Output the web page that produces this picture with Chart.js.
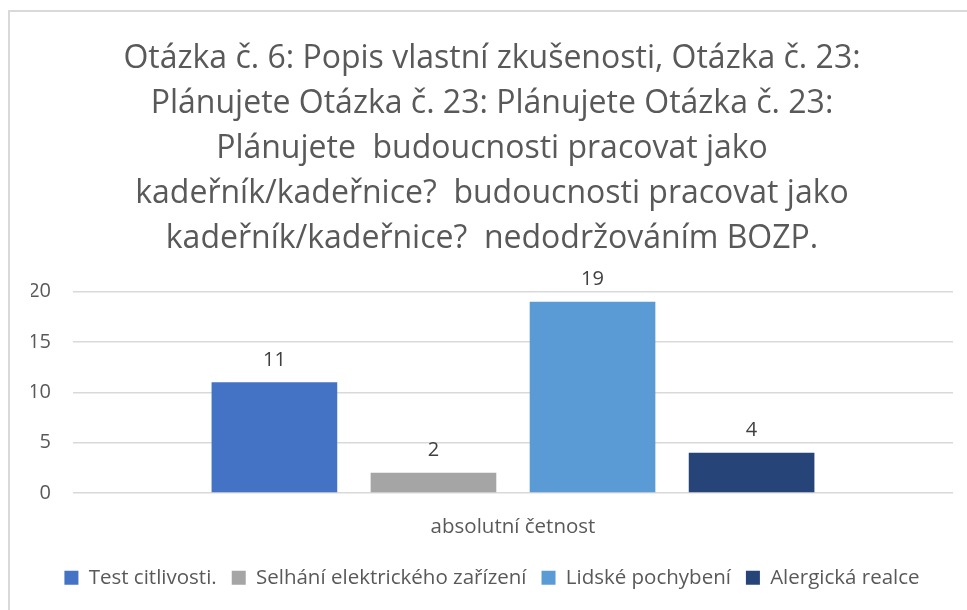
<!DOCTYPE html>
<html>
<head>
<meta charset="utf-8">
<script src="https://cdn.jsdelivr.net/npm/chart.js"></script>
<style>
  html, body { margin: 0; padding: 0; background: #fff; }
  #wrap { position: absolute; left: 0; top: 0; width: 967px; height: 610px; }
  #frame { position: absolute; left: 8px; top: 10px; width: 959px; height: 600px;
           border-left: 2px solid #d9d9d9; border-top: 2px solid #d9d9d9; box-sizing: border-box; }
</style>
</head>
<body>
<div id="wrap">
  <div id="frame"></div>
  <canvas id="myChart" width="967" height="610"></canvas>
</div>
<script>
var categories = ["absolutní četnost"];
var seriesNames = ["Test citlivosti.", "Selhání elektrického zařízení", "Lidské pochybení", "Alergická realce"];
var seriesValues = [11, 2, 19, 4];
var barColors = ["#4472C4", "#A5A5A5", "#5B9BD5", "#264478"];
var titleLines = [
  "Otázka č. 6: Popis vlastní zkušenosti, Otázka č. 23:",
  "Plánujete Otázka č. 23: Plánujete Otázka č. 23:",
  "Plánujete  budoucnosti pracovat jako",
  "kadeřník/kadeřnice?  budoucnosti pracovat jako",
  "kadeřník/kadeřnice?  nedodržováním BOZP."
];
var yTicks = [0, 5, 10, 15, 20];

var fontName = "'Open Sans', sans-serif";
var textColor = "#595959";

// value labels above the bars
var valueLabels = {
  id: "valueLabels",
  afterDatasetsDraw: function(chart) {
    var ctx = chart.ctx;
    ctx.save();
    ctx.font = "20px " + fontName;
    ctx.fillStyle = "#404040";
    ctx.textAlign = "center";
    ctx.textBaseline = "bottom";
    chart.data.datasets.forEach(function(ds, i) {
      var meta = chart.getDatasetMeta(i);
      meta.data.forEach(function(bar, j) {
        ctx.fillText(ds.data[j], bar.x, bar.y - 12);
      });
    });
    ctx.restore();
  }
};

var datasets = [];
for (var i = 0; i < seriesNames.length; i++) {
  datasets.push({
    label: seriesNames[i],
    data: [seriesValues[i]],
    backgroundColor: barColors[i],
    categoryPercentage: 0.723,
    barPercentage: 0.79
  });
}

var c = new Chart("myChart", {
  type: "bar",
  data: {
    labels: categories,
    datasets: datasets
  },
  options: {
    responsive: false,
    animation: false,
    layout: { padding: { left: 31, right: 14, top: 0, bottom: 12 } },
    plugins: {
      title: {
        display: true,
        text: titleLines,
        color: textColor,
        font: { family: fontName, size: 32, weight: "normal", lineHeight: 1.41 },
        padding: { top: 36, bottom: 30 }
      },
      legend: {
        position: "bottom",
        labels: {
          color: textColor,
          font: { family: fontName, size: 20.5 },
          boxWidth: 14,
          boxHeight: 14,
          padding: 15
        }
      },
      tooltip: { enabled: false }
    },
    scales: {
      x: {
        grid: { display: false },
        border: { display: false },
        afterFit: function(axis) { axis.height -= 1; },
        ticks: { color: textColor, font: { family: fontName, size: 20.5 }, padding: 14 }
      },
      y: {
        min: 0,
        max: 20,
        afterBuildTicks: function(axis) {
          axis.ticks = yTicks.map(function(v) { return { value: v }; });
        },
        afterFit: function(axis) { axis.width = 42; },
        grid: { color: "#d9d9d9", lineWidth: 1.5, drawTicks: false },
        border: { display: false },
        ticks: { color: textColor, font: { family: fontName, size: 20 }, padding: 22 }
      }
    }
  },
  plugins: [valueLabels]
});
</script>
</body>
</html>
